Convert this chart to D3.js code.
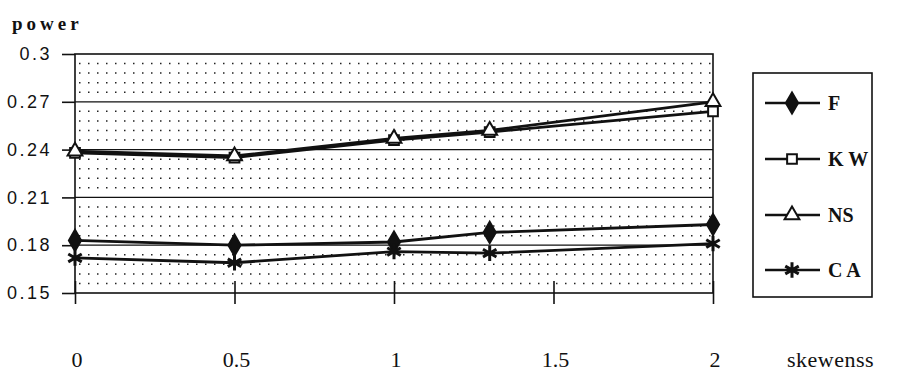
<!DOCTYPE html>
<html>
<head>
<meta charset="utf-8">
<script src="https://cdn.jsdelivr.net/npm/d3@7/dist/d3.min.js"></script>
<style>
  html, body { margin: 0; padding: 0; background: #fff; }
  svg { display: block; }
</style>
</head>
<body>
<div id="chart"></div>
<script>
// Skewness levels at which power was measured
const skewness = [0, 0.5, 1, 1.3, 2];

// Power of each test
const powerF  = [0.183, 0.180, 0.182, 0.188, 0.193];
const powerKW = [0.238, 0.235, 0.246, 0.251, 0.264];
const powerNS = [0.239, 0.236, 0.247, 0.252, 0.270];
const powerCA = [0.172, 0.169, 0.176, 0.175, 0.181];

const seriesLabels = ["F", "K W", "NS", "C A"];
const seriesValues = [powerF, powerKW, powerNS, powerCA];

const xTicks = [0, 0.5, 1, 1.5, 2];
const yTicks = [0.15, 0.18, 0.21, 0.24, 0.27, 0.3];
const yTickLabels = ["0.15", "0.18", "0.21", "0.24", "0.27", "0.3"];
const yMinorTicks = d3.range(0.156, 0.3, 0.006);

const W = 897, H = 372;
const plot = { left: 75, right: 713, top: 54, bottom: 293 };
const serif = "'Liberation Serif', 'Times New Roman', serif";

const svg = d3.select("#chart").append("svg")
  .attr("width", W).attr("height", H);

const x = d3.scaleLinear().domain([0, 2]).range([plot.left, plot.right]);
const y = d3.scaleLinear().domain([0.15, 0.3]).range([plot.bottom, plot.top]);

// dotted minor grid
svg.append("g").selectAll("line")
  .data(yMinorTicks.filter(v => Math.abs((v / 0.03) - Math.round(v / 0.03)) > 0.01))
  .join("line")
  .attr("x1", plot.left + 4).attr("x2", plot.right)
  .attr("y1", d => y(d)).attr("y2", d => y(d))
  .attr("stroke", "#222").attr("stroke-width", 1.5)
  .attr("stroke-dasharray", "1.5,7.5");

// major horizontal gridlines
svg.append("g").selectAll("line")
  .data(yTicks.slice(1, -1))
  .join("line")
  .attr("x1", plot.left).attr("x2", plot.right)
  .attr("y1", d => y(d)).attr("y2", d => y(d))
  .attr("stroke", "#111").attr("stroke-width", 1.3);

// frame
svg.append("rect")
  .attr("x", plot.left).attr("y", plot.top)
  .attr("width", plot.right - plot.left).attr("height", plot.bottom - plot.top)
  .attr("fill", "none").attr("stroke", "#111").attr("stroke-width", 1.6);

// y axis
const yAxis = d3.axisLeft(y).tickValues(yTicks)
  .tickFormat((d, i) => yTickLabels[i]).tickSize(13).tickPadding(10);
const gy = svg.append("g").attr("transform", `translate(${plot.left},0)`).call(yAxis);
gy.select(".domain").remove();
gy.selectAll(".tick line").attr("stroke", "#111").attr("stroke-width", 1.6);
gy.selectAll(".tick text")
  .attr("font-family", "'Liberation Sans', Arial, sans-serif")
  .attr("font-size", 18).attr("fill", "#111")
  .attr("letter-spacing", 2.5);

// x axis: ticks crossing the baseline
const gx = svg.append("g").attr("transform", `translate(0,${plot.bottom})`)
  .call(d3.axisBottom(x).tickValues(xTicks).tickSize(11).tickFormat(""));
gx.select(".domain").remove();
gx.selectAll(".tick line").attr("y1", -12).attr("stroke", "#111").attr("stroke-width", 1.6);

// x tick labels, set well below the axis
svg.append("g").selectAll("text")
  .data(xTicks)
  .join("text")
  .attr("x", d => x(d) + 2).attr("y", 367)
  .attr("text-anchor", "middle")
  .attr("font-family", serif)
  .attr("font-size", 22).attr("fill", "#111")
  .text(d => String(d));

svg.append("text")
  .attr("x", 787).attr("y", 367)
  .attr("font-family", serif)
  .attr("font-size", 22).attr("fill", "#111").attr("letter-spacing", 0.5)
  .text("skewenss");

svg.append("text")
  .attr("x", 12).attr("y", 30)
  .attr("font-family", serif)
  .attr("font-weight", "bold")
  .attr("font-size", 19).attr("fill", "#111").attr("letter-spacing", 4)
  .text("power");

// markers
const markerShapes = [
  { type: d3.symbolDiamond, size: 130, fill: "#111" },
  { type: d3.symbolSquare, size: 95, fill: "#fff" },
  { type: d3.symbolTriangle, size: 95, fill: "#fff" },
  { type: d3.symbolAsterisk, size: 170, fill: "none" }
];

function drawMarker(g, shape, cx, cy) {
  g.append("path")
    .attr("transform", `translate(${cx},${cy})`)
    .attr("d", d3.symbol().type(shape.type).size(shape.size)())
    .attr("fill", shape.fill)
    .attr("stroke", "#111")
    .attr("stroke-width", shape.fill === "none" ? 3 : 2);
}

const line = d3.line().x((d, i) => x(skewness[i])).y(d => y(d));

const seriesG = svg.append("g");
seriesValues.forEach(vals => {
  seriesG.append("path")
    .datum(vals)
    .attr("d", line)
    .attr("fill", "none")
    .attr("stroke", "#111")
    .attr("stroke-width", 2.8);
});
seriesValues.forEach((vals, s) => {
  const g = seriesG.append("g");
  vals.forEach((v, i) => drawMarker(g, markerShapes[s], x(skewness[i]), y(v)));
});

// legend
const legend = svg.append("g");
legend.append("rect")
  .attr("x", 753).attr("y", 73).attr("width", 119).attr("height", 224)
  .attr("fill", "#fff").attr("stroke", "#111").attr("stroke-width", 1.6);

const legendY = [103, 159, 215, 270];
seriesLabels.forEach((name, s) => {
  const ly = legendY[s];
  legend.append("line")
    .attr("x1", 765).attr("x2", 820).attr("y1", ly).attr("y2", ly)
    .attr("stroke", "#111").attr("stroke-width", 2.6);
  drawMarker(legend, markerShapes[s], 792, ly);
  legend.append("text")
    .attr("x", 828).attr("y", ly + 7)
    .attr("font-family", serif)
    .attr("font-weight", "bold")
    .attr("font-size", 20).attr("fill", "#111")
    .text(name);
});
</script>
</body>
</html>
